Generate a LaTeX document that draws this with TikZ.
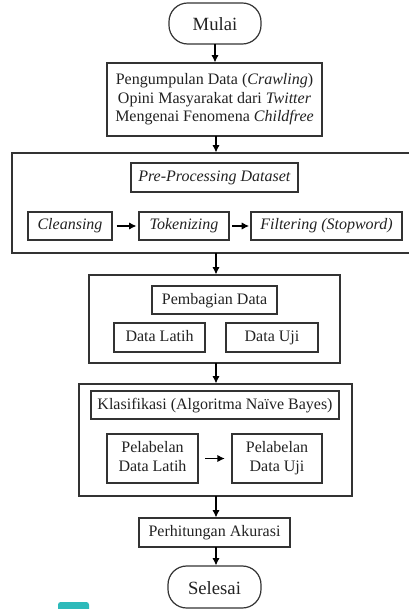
\documentclass[tikz,border=0pt]{standalone}
\usepackage{fontspec}
\setmainfont{Liberation Serif}
\usetikzlibrary{arrows.meta}
\definecolor{linec}{HTML}{333333}
\definecolor{textc}{HTML}{222222}
\definecolor{teal1}{HTML}{2DBABA}
\tikzset{
  box/.style={draw=linec, line width=0.9pt, inner sep=0pt, align=center, text=textc, font=\fontsize{12}{14}\selectfont},
  one/.style={box, text height=8.5pt, text depth=2.5pt},
  term/.style={box, rounded corners=14pt, font=\fontsize{14}{16}\selectfont, text height=11pt, text depth=0pt},
  outer/.style={draw=linec, line width=0.9pt, inner sep=0pt},
  arr/.style={-{Latex[length=5.5pt,width=5.5pt]}, line width=0.9pt, draw=black},
}
\newcommand{\bx}[7]{% style, name, x1, y1, x2, y2, text
  \node[#1, minimum width={(#5-#3)*0.75pt}, minimum height={(#6-#4)*0.75pt}] (#2) at ({(#3+#5)/2},{(#4+#6)/2}) {#7};}
\begin{document}
\begin{tikzpicture}[x=0.75pt,y=-0.75pt]
\clip (0,0) rectangle (409,609);
\useasboundingbox (0,0) rectangle (409,609);
% outer groups
\bx{outer}{pre}{12}{153}{416}{253}{}
\bx{outer}{bagi}{89}{275}{340}{363}{}
\bx{outer}{klas}{79}{384}{352}{496}{}
% nodes
\bx{term}{mulai}{169}{3}{261}{44}{Mulai}
\bx{box}{crawl}{107}{63}{322}{136}{Pengumpulan Data (\textit{Crawling})\strut\\Opini Masyarakat dari \textit{Twitter}\strut\\Mengenai Fenomena \textit{Childfree}\strut}
\bx{one}{ppd}{131}{163}{298}{192}{\textit{Pre-Processing Dataset}}
\bx{one}{clean}{28}{212}{112}{240}{\textit{Cleansing}}
\bx{one}{token}{139}{212}{229}{240}{\textit{Tokenizing}}
\bx{one}{filter}{251}{212}{402}{240}{\textit{Filtering (Stopword)}}
\bx{one}{pemb}{152}{286}{277}{314}{Pembagian Data}
\bx{one}{latih}{114}{323}{205}{352}{Data Latih}
\bx{one}{uji}{226}{323}{318}{352}{Data Uji}
\bx{one}{nb}{91}{391}{339}{419}{Klasifikasi (Algoritma Na\"ive Bayes)}
\bx{box}{plat}{107}{434}{198}{483}{Pelabelan\strut\\Data Latih\strut}
\bx{box}{puji}{232}{434}{322}{483}{Pelabelan\strut\\Data Uji\strut}
\bx{one}{akur}{139}{518}{290}{547}{Perhitungan Akurasi}
\bx{term}{selesai}{168}{566}{261}{608}{Selesai}
% connectors
\coordinate (c1) at (215,44);
\coordinate (c2) at (216,136);
\coordinate (c3) at (216,253);
\coordinate (c4) at (216,363);
\coordinate (c5) at (216,496);
\coordinate (c6) at (216,547);
\draw[arr] (c1) -- (c1 |- crawl.north);
\draw[arr] (c2) -- (c2 |- pre.north);
\draw[arr] (c3) -- (c3 |- bagi.north);
\draw[arr] (c4) -- (c4 |- klas.north);
\draw[arr] (c5) -- (c5 |- akur.north);
\draw[arr] (c6) -- (c6 |- selesai.north);
\draw[arr] ([xshift=3pt]clean.east) -- ([xshift=-1.5pt]token.west);
\draw[arr] ([xshift=2pt]token.east) -- ([xshift=-1pt]filter.west);
\draw[arr] ([xshift=5pt]plat.east) -- ([xshift=-5pt]puji.west);
% teal mark
\fill[teal1, rounded corners=2pt] (58,602) rectangle (89,615);
\end{tikzpicture}
\end{document}
